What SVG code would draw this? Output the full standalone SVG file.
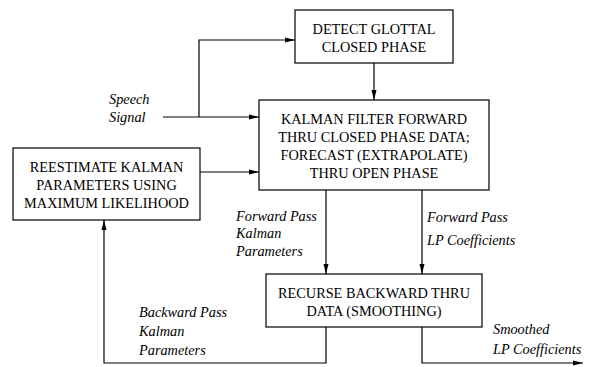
<svg xmlns="http://www.w3.org/2000/svg" width="591" height="367" viewBox="0 0 591 367">
<style>
.box{fill:#fff;stroke:#000;stroke-width:1.2}
.t{font-family:'Liberation Serif','Times New Roman',Times,serif;font-size:14.3px;text-anchor:middle;fill:#000}
.l{font-family:'Liberation Serif','Times New Roman',Times,serif;font-size:14.3px;font-style:italic;fill:#000}
.c{fill:none;stroke:#000;stroke-width:1.2}
</style>
<defs>
<marker id="a" viewBox="0 0 10 6" refX="10" refY="3" markerWidth="10" markerHeight="6" markerUnits="userSpaceOnUse" orient="auto">
<path d="M0,0.5 L10,3 L0,5.5 Z" fill="#000"/>
</marker>
</defs>
<g id="connectors">
<path class="c" d="M163,117 H259" marker-end="url(#a)"/>
<path class="c" d="M199,117 V40 H295" marker-end="url(#a)"/>
<path class="c" d="M374,63 V100" marker-end="url(#a)"/>
<path class="c" d="M200,172 H259" marker-end="url(#a)"/>
<path class="c" d="M326,190 V274" marker-end="url(#a)"/>
<path class="c" d="M422,190 V274" marker-end="url(#a)"/>
<path class="c" d="M326,327 V363 H104 V220" marker-end="url(#a)"/>
<path class="c" d="M422,327 V363 H583" marker-end="url(#a)"/>
</g>
<g id="detect">
<rect class="box" x="295" y="10" width="158" height="53"/>
<text class="t" x="374" y="34">DETECT GLOTTAL</text>
<text class="t" x="374" y="52">CLOSED PHASE</text>
</g>
<g id="kalman">
<rect class="box" x="259" y="100" width="230" height="90"/>
<text class="t" x="374" y="124">KALMAN FILTER FORWARD</text>
<text class="t" x="374" y="142">THRU CLOSED PHASE DATA;</text>
<text class="t" x="374" y="160">FORECAST (EXTRAPOLATE)</text>
<text class="t" x="374" y="178">THRU OPEN PHASE</text>
</g>
<g id="reestimate">
<rect class="box" x="13" y="148" width="187" height="72"/>
<text class="t" x="106.5" y="172">REESTIMATE KALMAN</text>
<text class="t" x="106.5" y="190">PARAMETERS USING</text>
<text class="t" x="106.5" y="208">MAXIMUM LIKELIHOOD</text>
</g>
<g id="recurse">
<rect class="box" x="266" y="274" width="216" height="53"/>
<text class="t" x="374" y="298">RECURSE BACKWARD THRU</text>
<text class="t" x="374" y="316">DATA (SMOOTHING)</text>
</g>
<g id="labels">
<text class="l" x="109" y="104">Speech</text>
<text class="l" x="109" y="122">Signal</text>
<text class="l" x="236" y="221">Forward Pass</text>
<text class="l" x="236" y="238">Kalman</text>
<text class="l" x="236" y="256">Parameters</text>
<text class="l" x="427" y="222">Forward Pass</text>
<text class="l" x="427" y="245">LP Coefficients</text>
<text class="l" x="139" y="317">Backward Pass</text>
<text class="l" x="139" y="336">Kalman</text>
<text class="l" x="139" y="355">Parameters</text>
<text class="l" x="493" y="334">Smoothed</text>
<text class="l" x="493" y="354">LP Coefficients</text>
</g>
</svg>
